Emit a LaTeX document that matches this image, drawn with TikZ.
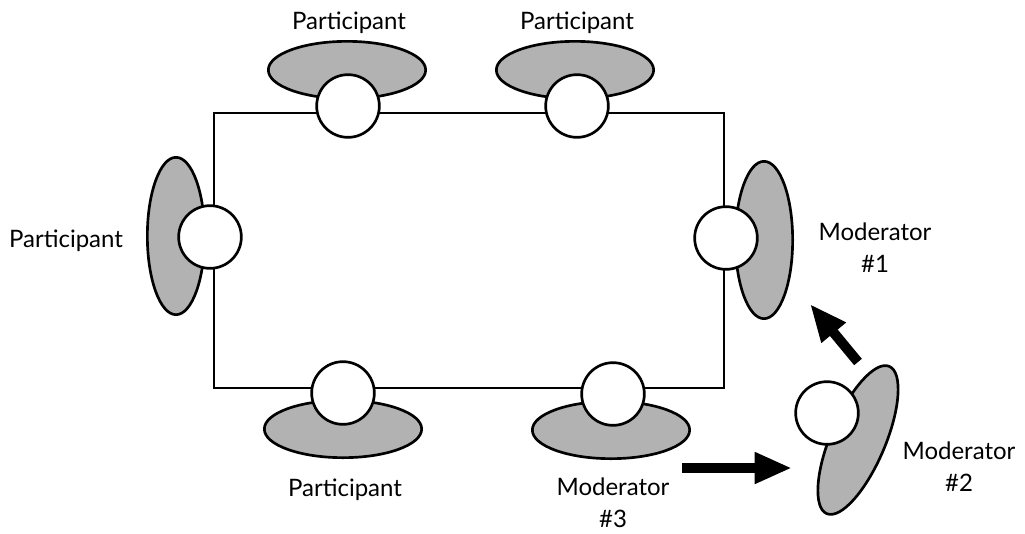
\documentclass[tikz,border=0pt]{standalone}
\usepackage{fontspec}
\setmainfont{Lato}
\usetikzlibrary{shapes.geometric,arrows.meta}

\begin{document}
\begin{tikzpicture}[x=0.75pt,y=-0.75pt,
        seat/.style={circle,draw,line width=2pt,fill=white,minimum size=47pt,inner sep=0pt},
        body/.style={ellipse,draw,line width=2pt,fill=black!30,inner sep=0pt},
        wide/.style={body,minimum width=118pt,minimum height=43pt},
        tall/.style={body,minimum width=43pt,minimum height=118pt},
        txt/.style={font=\fontsize{18}{24}\selectfont,align=center,inner sep=0pt},
        bigarrow/.style={line width=7.5pt,-{Triangle[length=28pt,width=22pt]}}]
        \useasboundingbox (0,0) rectangle (1025,533);
        % table
        \node[draw,line width=1.5pt,minimum width=382.5pt,minimum height=206.25pt,inner sep=0pt] (table) at (469,250.5) {};
        % bodies
        \node[wide] (b1) at (347,70) {};
        \node[wide] (b2) at (575,70) {};
        \node[tall] (b3) at (176,236) {};
        \node[tall] (b4) at (764,240) {};
        \node[wide] (b5) at (343,429) {};
        \node[wide] (b6) at (611,430) {};
        \node[body,minimum width=41pt,minimum height=120pt,rotate=-23] (b7) at (858,440) {};
        % heads
        \node[seat] (s1) at (348,106) {};
        \node[seat] (s2) at (577,106) {};
        \node[seat] (s3) at (210,237) {};
        \node[seat] (s4) at (726,238) {};
        \node[seat] (s5) at (343,393) {};
        \node[seat] (s6) at (613,394) {};
        \node[seat] (s7) at (827,413) {};
        % labels
        \node[txt] (p1) at (349,23) {Participant};
        \node[txt] (p2) at (577,23) {Participant};
        \node[txt] (p3) at (66,241) {Participant};
        \node[txt] (p5) at (345,490) {Participant};
        \node[txt] (m1) at (875,248) {Moderator\\\#1};
        \node[txt] (m2) at (959,467) {Moderator\\\#2};
        \node[txt] (m3) at (613,503) {Moderator\\\#3};
        % moves
        \coordinate (a3) at (682,468);
        \coordinate (a3end) at (792,468);
        \coordinate (a2) at (858,362);
        \coordinate (a2end) at (810,304);
        \draw[bigarrow] (a3) -- (a3end);
        \draw[bigarrow] (a2) -- (a2end);
\end{tikzpicture}
\end{document}
